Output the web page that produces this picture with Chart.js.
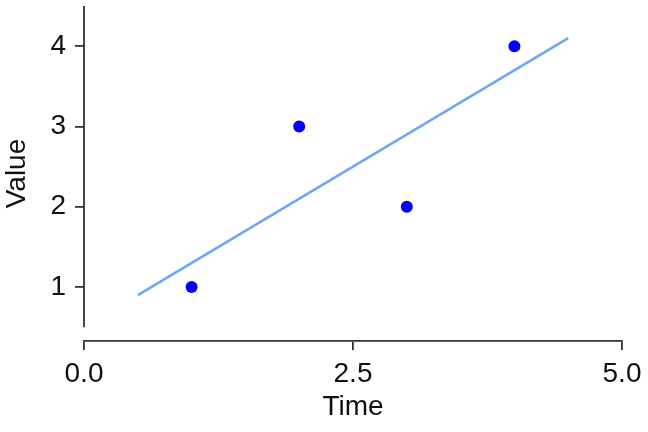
<!DOCTYPE html>
<html lang="en">
    <head>
        <meta charset="UTF-8" />
        <title>Value over time</title>
        <script src="https://cdn.jsdelivr.net/npm/chart.js"></script>
        <style>
            html, body {
                margin: 0;
                padding: 0;
                background: #ffffff;
            }

            #wrap {
                width: 648px;
                height: 432px;
            }
        </style>
    </head>
    <body>
        <div id="wrap"><canvas id="chart" width="648" height="432"></canvas></div>

        <script>
	const timeValues = [1, 2, 3, 4];
	const measured = [1, 3, 2, 4];
	const fitX = [0.5, 4.5];
	const fitY = [0.9, 4.1];
	const xTicks = [0, 2.5, 5];
	const yTicks = [1, 2, 3, 4];

	const axisColor = '#333333';
	const textColor = '#111111';
	const font = {family: "'Liberation Sans', Arial, sans-serif", size: 28};

	// y axis line only covers the data range, x axis sits lower like ggplot
	const axisLine = {
		id: 'axisLine',
		afterDraw(chart) {
			const y = chart.scales.y;
			const ctx = chart.ctx;
			ctx.save();
			ctx.strokeStyle = axisColor;
			ctx.lineWidth = 1.8;
			ctx.beginPath();
			ctx.moveTo(chart.chartArea.left, y.getPixelForValue(4.5));
			ctx.lineTo(chart.chartArea.left, y.getPixelForValue(0.5));
			ctx.stroke();
			ctx.restore();
		}
	};

	new Chart(document.getElementById('chart'), {
		type: 'scatter',
		data: {
			datasets: [{
					label: 'fit',
					type: 'line',
					data: fitX.map((x, i) => ({x, y: fitY[i]})),
					borderColor: '#6ea7f5',
					borderWidth: 2.6,
					pointRadius: 0,
					fill: false
				}, {
					label: 'Value',
					data: timeValues.map((x, i) => ({x, y: measured[i]})),
					backgroundColor: '#0000ff',
					borderWidth: 0,
					pointRadius: 6
				}]
		},
		options: {
			responsive: false,
			animation: false,
			layout: {padding: {top: 6, right: 26, left: 0, bottom: 0}},
			plugins: {legend: {display: false}, tooltip: {enabled: false}},
			scales: {
				x: {
					type: 'linear',
					min: 0,
					max: 5,
					afterBuildTicks: s => { s.ticks = xTicks.map(v => ({value: v})); },
					afterFit: s => { s.height = 91; s.paddingLeft = 0; s.paddingRight = 0; },
					ticks: {
						color: textColor,
						font,
						padding: 7,
						maxRotation: 0,
						callback: v => v.toFixed(1)
					},
					grid: {drawOnChartArea: false, tickLength: 9, color: axisColor, lineWidth: 1.8},
					border: {display: true, color: axisColor, width: 1.8},
					title: {display: true, text: 'Time', color: textColor, font, padding: {top: 0, bottom: 8}}
				},
				y: {
					min: 0.328,
					max: 4.5,
					afterBuildTicks: s => { s.ticks = yTicks.map(v => ({value: v})); },
					afterFit: s => { s.width = 84; s.paddingTop = 0; s.paddingBottom = 0; },
					ticks: {color: textColor, font, padding: 9},
					grid: {drawOnChartArea: false, tickLength: 9, color: axisColor, lineWidth: 1.8},
					border: {display: false},
					title: {display: true, text: 'Value', color: textColor, font, padding: {top: 0, bottom: 0}}
				}
			}
		},
		plugins: [axisLine]
	});
        </script>
    </body>
</html>
